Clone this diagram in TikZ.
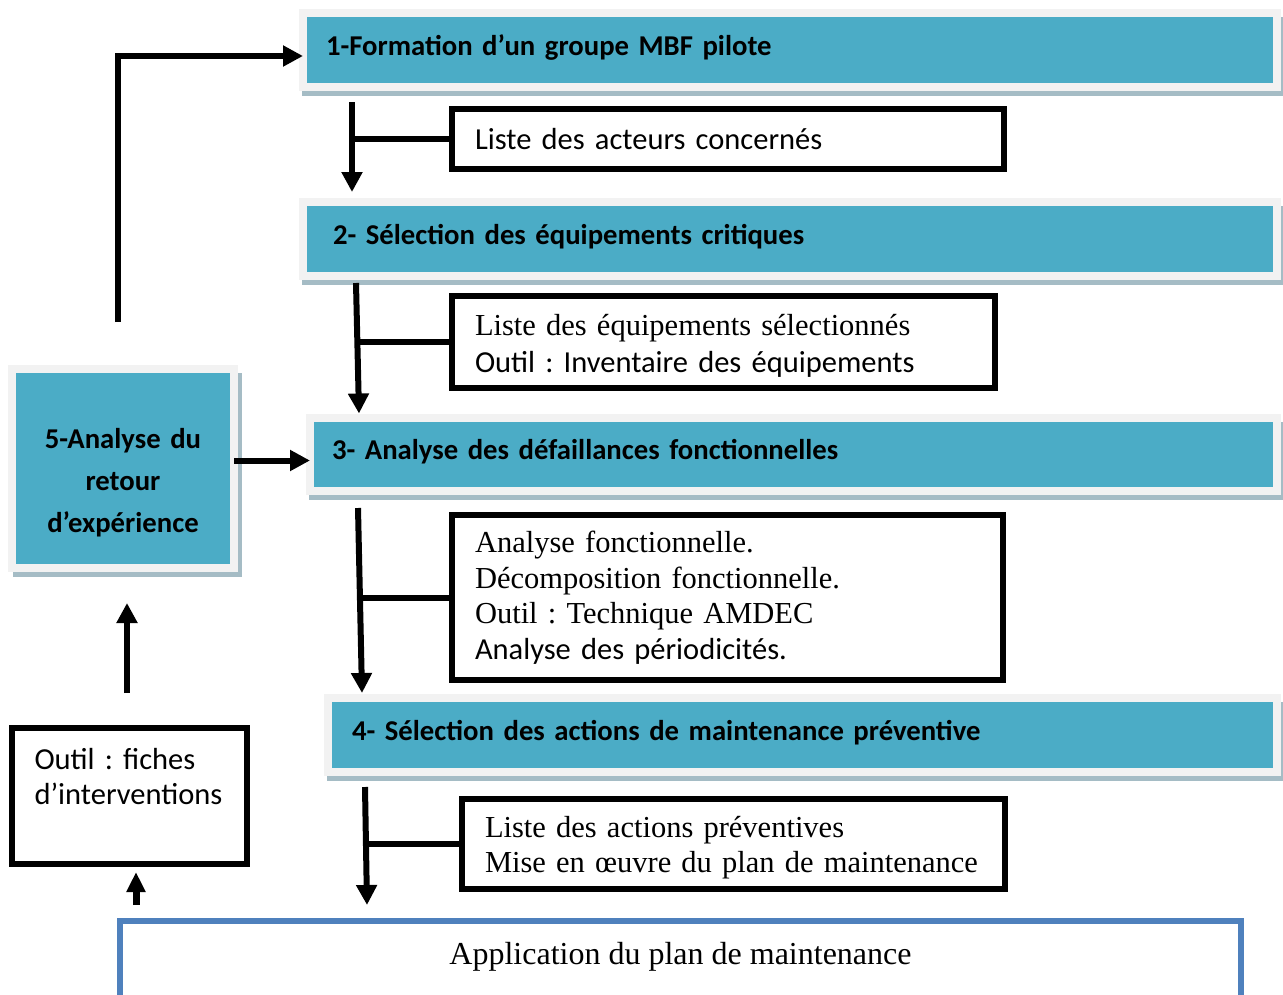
\documentclass[tikz,border=0pt]{standalone}
\usepackage{fontspec}
\setmainfont{Liberation Serif}
\setsansfont{Carlito}
\usetikzlibrary{arrows.meta}

\definecolor{boxblue}{RGB}{75,172,198}
\definecolor{framegray}{RGB}{242,242,242}
\definecolor{shadowgray}{RGB}{165,188,197}
\definecolor{appblue}{RGB}{79,129,189}

\tikzset{
bluebox/.style={fill=boxblue, draw=framegray, line width=8pt, outer sep=0pt,
  anchor=north west, align=left, text height=19pt, text depth=9pt,
  font=\sffamily\bfseries\fontsize{28.7}{34}\selectfont},
textbox/.style={draw=black, line width=6pt, outer sep=0pt, anchor=north west,
  inner xsep=23pt, align=left, font=\fontsize{30.5}{35.5}\selectfont},
shadowstrip/.style={fill=shadowgray},
flow/.style={line width=6pt, -{Triangle[length=20pt,width=20pt]}},
branch/.style={line width=6pt},
}

\begin{document}
\frenchspacing
\begin{tikzpicture}[%
x=1pt, y=-1pt,
]
\useasboundingbox (0,0) rectangle (1283,994);
\clip (0,0) rectangle (1283,994);
%% steps;
\node[bluebox, text width=928pt, inner xsep=23pt, minimum height=74pt] (b1) at (303,13) {1-Formation d’un groupe MBF pilote};
\node[bluebox, text width=914pt, inner xsep=30pt, minimum height=74pt] (b2) at (303,202) {2- Sélection des équipements critiques};
\node[bluebox, text width=923pt, inner xsep=22pt, minimum height=73.5pt] (b3) at (310,417.5) {3- Analyse des défaillances fonctionnelles};
\node[bluebox, text width=901pt, inner xsep=24pt, minimum height=74pt] (b4) at (328,698) {4- Sélection des actions de maintenance préventive};
\node[bluebox, text width=202pt, inner xsep=10pt, minimum height=199pt, align=center,
  font=\sffamily\bfseries\fontsize{28.7}{42}\selectfont, text height=20pt, text depth=61pt] (b5) at (12,369) {5-Analyse du\\retour\\d’expérience};
%% shadows;
\foreach \b in {b1,b2,b3,b4}{
  \fill[shadowstrip] ([xshift=-1pt,yshift=-4pt]\b.south west) rectangle ([xshift=8pt,yshift=-9pt]\b.south east);
  \fill[shadowstrip] ([xshift=4pt,yshift=-4pt]\b.north east) rectangle ([xshift=8pt,yshift=-4pt]\b.south east);
}
\fill[shadowstrip] ([xshift=1pt,yshift=-4pt]b5.south west) rectangle ([xshift=8pt,yshift=-9pt]b5.south east);
\fill[shadowstrip] ([xshift=4pt,yshift=-4pt]b5.north east) rectangle ([xshift=8pt,yshift=-4pt]b5.south east);
%% outputs;
\node[textbox, text width=506pt, minimum height=60pt] (t1) at (452,109) {\sffamily Liste des acteurs concernés};
\node[textbox, text width=497pt, minimum height=92pt, text height=22pt, text depth=36pt,
  font=\fontsize{30.5}{37}\selectfont] (t2) at (452,296) {Liste des équipements sélectionnés\\\textsf{Outil : Inventaire des équipements}};
\node[textbox, text width=505pt, minimum height=165pt] (t3) at (452,515) {Analyse fonctionnelle.\\Décomposition fonctionnelle.\\Outil : Technique AMDEC\\\textsf{Analyse des périodicités.}};
\node[textbox, text width=497pt, minimum height=90pt, text height=22pt, text depth=36pt,
  font=\fontsize{30.5}{35}\selectfont] (t4) at (462,799) {Liste des actions préventives\\Mise en œuvre du plan de maintenance};
\node[textbox, text width=189pt, minimum height=135.5pt, text height=21pt, text depth=74.5pt,
  font=\sffamily\fontsize{30.5}{35}\selectfont] (outil) at (11.5,728) {Outil : fiches\\d’interventions};
\node[draw=appblue, line width=6pt, outer sep=0pt, anchor=north west, minimum width=1121pt, minimum height=79pt,
  text height=21pt, text depth=13pt, font=\fontsize{32}{38}\selectfont] (ap) at (120,921) {Application du plan de maintenance};
%% trunks;
\draw[flow] ([xshift=49pt,yshift=-15pt]b1.south west) coordinate (k1) -- ([xshift=49pt,yshift=10pt]b2.north west);
\draw[flow] ([xshift=53pt,yshift=-7pt]b2.south west) coordinate (k2) -- ([xshift=49pt,yshift=4pt]b3.north west);
\draw[flow] ([xshift=48pt,yshift=-17pt]b3.south west) coordinate (k3) -- ([xshift=34pt,yshift=5pt]b4.north west);
\draw[flow] ([xshift=37pt,yshift=-15pt]b4.south west) coordinate (k4) -- ([xshift=247pt,yshift=16pt]ap.north west);
%% branches;
\draw[branch] (t1.west) -- (t1.west -| k1);
\draw[branch] (t2.west) -- (t2.west -| k2);
\draw[branch] (t3.west) -- (t3.west -| k3);
\draw[branch] (t4.west) -- (t4.west -| k4);
%% feedback;
\draw[flow, line width=7pt, -{Triangle[length=20pt,width=18pt]}] ([xshift=16pt,yshift=16pt]ap.north west) -- ([xshift=7pt,yshift=-8.5pt]outil.south);
\draw[flow] ([xshift=-2pt,yshift=35pt]outil.north) -- ([xshift=4pt,yshift=-35pt]b5.south);
\draw[flow] ([yshift=8pt]b5.east) coordinate (k7) -- (b3.west |- k7);
\draw[flow] ([xshift=-5pt,yshift=47pt]b5.north) |- ([yshift=-6pt]b1.west);
\end{tikzpicture}
\end{document}
